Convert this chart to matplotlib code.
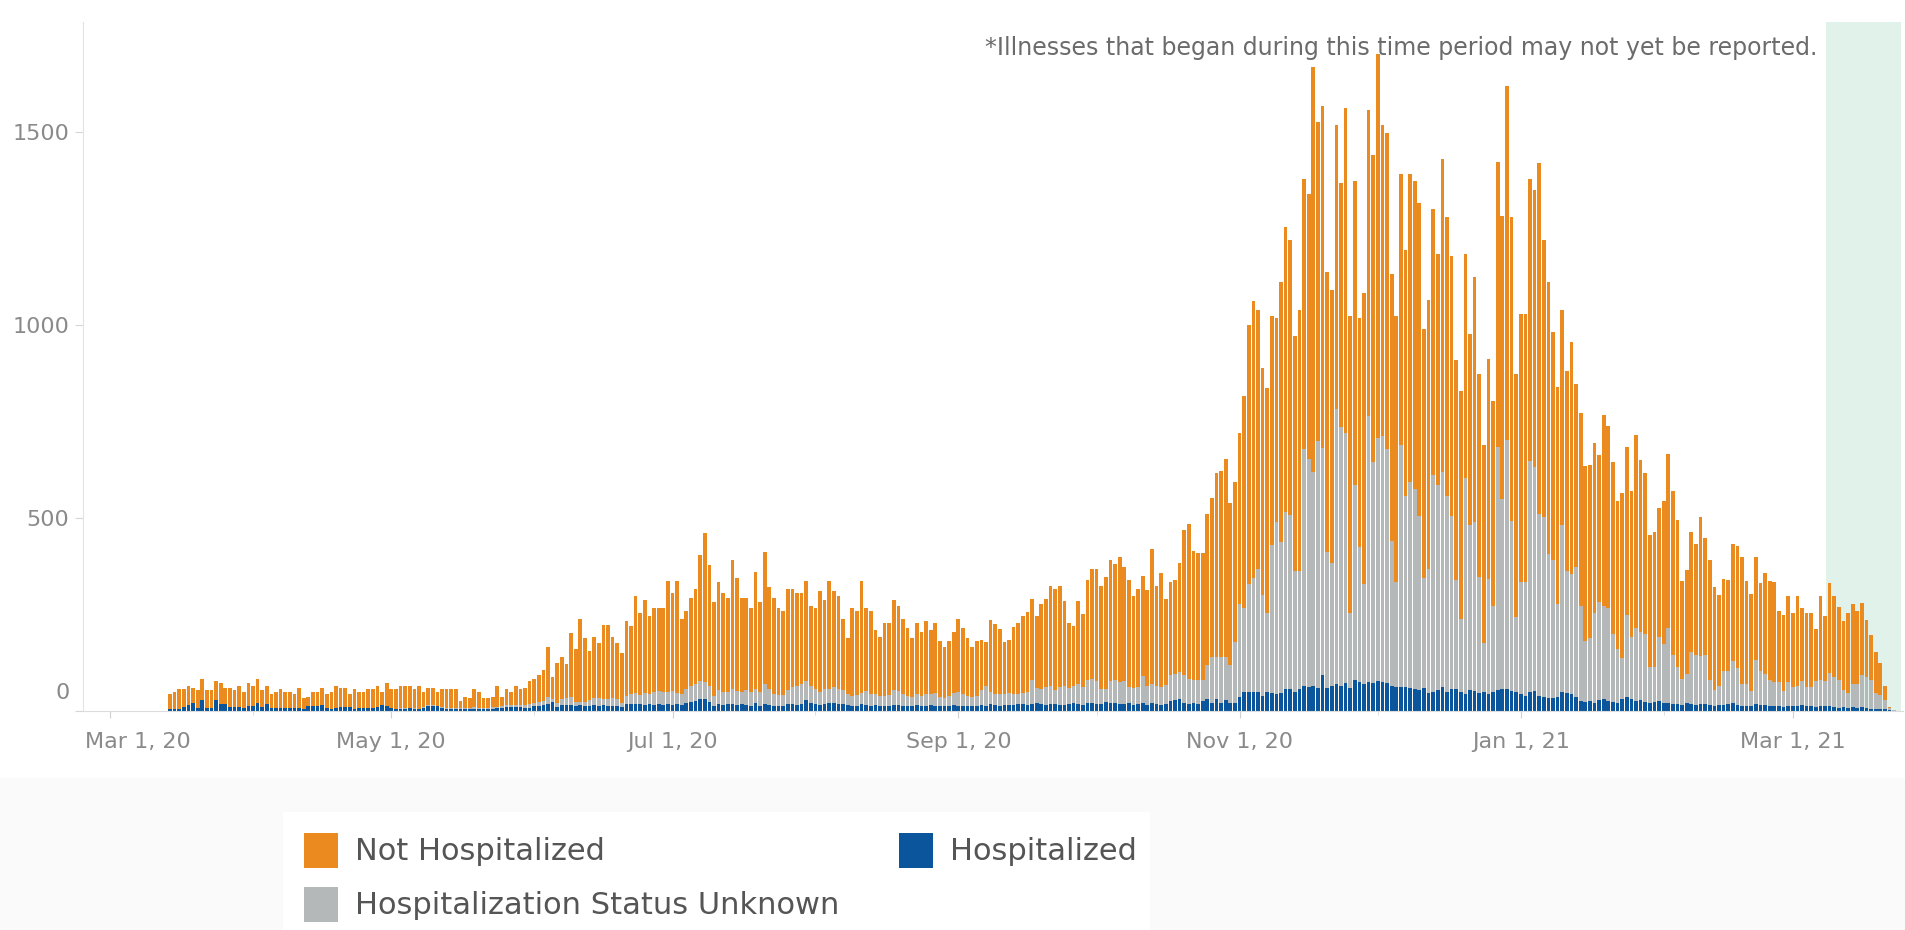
import numpy as np
import pandas as pd
import matplotlib
matplotlib.use('Agg')
import matplotlib.pyplot as plt
import matplotlib.dates as mdates
from matplotlib.patches import Rectangle

# daily illness onsets, Mar 14 2020 -> Mar 23 2021
first_day = '2020-03-14'

total_cases = [
    43, 50, 56, 56, 66, 60, 54, 82, 54, 54, 79, 72, 60, 60, 54, 66, 48, 72, 66, 82,
    54, 66, 43, 48, 56, 48, 48, 43, 60, 33, 37, 48, 48, 60, 43, 48, 66, 60, 60, 43,
    56, 48, 48, 56, 56, 66, 48, 72, 56, 56, 66, 66, 66, 56, 66, 48, 60, 60, 48, 56,
    56, 56, 56, 27, 37, 33, 56, 48, 33, 33, 37, 66, 37, 56, 48, 66, 56, 60, 79, 82,
    93, 106, 167, 89, 124, 139, 122, 201,
    160, 238, 188, 156, 193, 177, 224, 224, 193, 177, 149, 233, 221, 299, 255, 288, 245, 266, 266, 266,
    338, 305, 338, 238, 260, 294, 315, 405, 460, 378, 283, 333, 305, 294, 390, 345, 294, 294, 266, 360,
    283, 411, 322, 294, 266, 260, 315, 315, 305, 305, 338, 272, 266, 310, 288, 338, 310, 299, 238, 188,
    266, 260, 338, 266, 260, 210, 193, 227, 227, 288, 272, 238, 216, 188, 227, 204, 233, 210, 227, 181,
    167, 181, 204, 238, 216, 188, 167, 181,
    184, 180, 236, 226, 212, 179, 184, 217, 229, 245, 257, 290, 245, 278, 290, 325, 316, 325, 284, 229,
    221, 284, 252, 339, 367, 367, 325, 346, 391, 382, 400, 372, 339, 297, 316, 351, 314, 419, 323, 358,
    289, 334, 339, 384, 468, 485,
    415, 410, 410, 510, 551, 617, 622, 654, 538, 592, 721, 817, 1000, 1061, 1038, 889, 836, 1024, 1017, 1111,
    1255, 1219, 971, 1039, 1379, 1339, 1668, 1525, 1568, 1137, 1090, 1517, 1367, 1561, 1024, 1373, 1017, 1083, 1558, 1440,
    1702, 1517, 1497, 1131, 1024, 1390, 1195, 1390, 1373, 1317, 990, 1065, 1300, 1185, 1429, 1280, 1179, 910, 828, 1185,
    976, 1124, 873, 688, 911, 803, 1423, 1283, 1618, 1280, 873, 1028, 1028,
    1379, 1351, 1421, 1221, 1111, 982, 839, 1038, 882, 955, 848, 772, 634, 637, 694, 662, 767, 739, 645, 544,
    566, 683, 569, 714, 651, 617, 455, 465, 527, 544, 667, 569, 494, 337, 365, 465, 432, 503, 449, 390,
    320, 300, 343, 339, 432, 427, 399, 337, 303, 399, 331, 358, 337, 334, 259, 249, 298, 254, 298, 267,
    254, 254, 212, 298, 247, 331, 298, 270, 233, 254, 276, 259, 281, 236, 197, 154, 124, 64, 10, 2,
]

hospitalized = [
    5, 6, 6, 11, 15, 22, 9, 28, 7, 8, 28, 18, 18, 10, 10, 10, 8, 12, 12, 22,
    11, 18, 8, 7, 9, 9, 9, 9, 8, 6, 12, 14, 14, 15, 8, 6, 8, 11, 11, 10,
    6, 7, 7, 8, 7, 10, 15, 12, 7, 6, 6, 6, 7, 6, 5, 8, 13, 13, 12, 8,
    6, 5, 6, 5, 5, 6, 6, 6, 6, 5, 6, 7, 8, 10, 10, 10, 10, 8, 9, 12,
    13, 16, 17, 24, 10, 16, 15, 16,
    14, 16, 12, 14, 15, 14, 16, 12, 13, 14, 10, 18, 18, 18, 17, 16, 18, 16, 17, 16,
    18, 16, 18, 15, 20, 24, 26, 32, 30, 24, 14, 18, 16, 18, 17, 16, 18, 16, 14, 22,
    14, 18, 16, 12, 14, 12, 18, 17, 16, 18, 28, 22, 18, 16, 18, 20, 20, 18, 18, 16,
    14, 12, 18, 16, 14, 16, 14, 12, 12, 16, 16, 14, 12, 13, 15, 12, 14, 16, 14, 12,
    12, 14, 16, 14, 14, 12, 13, 12,
    16, 14, 18, 15, 14, 16, 15, 16, 17, 18, 16, 18, 20, 18, 16, 17, 18, 16, 15, 18,
    20, 18, 16, 22, 20, 18, 17, 24, 22, 20, 18, 18, 20, 16, 17, 22, 16, 20, 18, 16,
    18, 26, 28, 30, 20, 18,
    22, 18, 25, 30, 22, 30, 20, 28, 20, 20, 36, 48, 48, 48, 48, 40, 48, 46, 44, 46,
    58, 56, 50, 56, 64, 62, 64, 60, 92, 60, 64, 70, 66, 72, 60, 80, 74, 70, 76, 72,
    78, 76, 72, 66, 62, 62, 62, 60, 58, 54, 60, 46, 50, 54, 62, 50, 56, 58, 48, 44,
    54, 52, 46, 48, 44, 50, 54, 58, 56, 52, 48, 44, 40,
    50, 53, 40, 36, 34, 33, 35, 50, 46, 44, 36, 26, 24, 26, 22, 28, 30, 26, 24, 22,
    32, 36, 30, 26, 28, 24, 22, 24, 26, 22, 20, 18, 18, 16, 22, 18, 16, 18, 18, 16,
    14, 16, 16, 18, 20, 16, 14, 14, 12, 18, 16, 16, 14, 14, 12, 10, 12, 14, 12, 16,
    12, 12, 10, 12, 14, 12, 10, 8, 10, 8, 10, 8, 10, 8, 6, 6, 5, 4, 2, 1,
]

unknown = [
    0, 0, 0, 0, 0, 0, 0, 0, 0, 0, 0, 0, 0, 0, 0, 0, 0, 0, 0, 0,
    0, 0, 0, 0, 0, 0, 0, 0, 0, 0, 0, 0, 0, 0, 0, 0, 0, 0, 0, 0,
    0, 0, 0, 0, 0, 0, 0, 0, 0, 0, 1, 1, 2, 2, 1, 2, 2, 3, 2, 2,
    2, 3, 3, 2, 3, 3, 4, 3, 3, 4, 4, 4, 5, 5, 5, 6, 6, 7, 8, 8,
    10, 9, 18, 8, 12, 14, 18, 20,
    10, 8, 12, 14, 18, 20, 16, 18, 20, 16, 12, 22, 26, 28, 24, 30, 26, 32, 36, 34,
    30, 36, 28, 30, 38, 40, 44, 46, 46, 40, 26, 36, 34, 30, 40, 36, 32, 38, 36, 34,
    34, 52, 40, 32, 28, 30, 36, 44, 50, 52, 50, 44, 38, 34, 40, 36, 42, 38, 36, 28,
    24, 30, 28, 36, 30, 28, 24, 26, 30, 38, 36, 30, 26, 24, 30, 28, 30, 28, 32, 24,
    22, 24, 30, 34, 30, 26, 24, 26,
    39, 52, 32, 30, 31, 28, 31, 29, 28, 28, 32, 62, 40, 40, 46, 48, 37, 46, 51, 42,
    44, 52, 46, 58, 62, 60, 39, 32, 56, 60, 58, 60, 42, 44, 44, 68, 50, 50, 46, 46,
    50, 66, 67, 70, 72, 64,
    59, 63, 56, 90, 118, 110, 120, 112, 100, 159, 242, 218, 280, 297, 319, 260, 207, 383, 445, 391,
    458, 452, 312, 306, 615, 592, 556, 639, 590, 352, 320, 713, 669, 649, 195, 506, 350, 258, 687, 574,
    629, 636, 607, 374, 272, 626, 494, 534, 517, 450, 285, 321, 561, 532, 556, 508, 448, 281, 190, 560,
    428, 437, 301, 128, 299, 222, 630, 491, 645, 441, 196, 290, 294,
    598, 578, 470, 466, 373, 357, 243, 432, 316, 310, 337, 246, 158, 162, 233, 255, 242, 242, 175, 138,
    105, 213, 163, 190, 176, 175, 93, 91, 167, 152, 196, 127, 97, 68, 73, 136, 129, 125, 127, 65,
    41, 50, 87, 85, 109, 95, 56, 56, 41, 115, 87, 79, 67, 61, 63, 43, 63, 48, 54, 62,
    50, 50, 68, 69, 64, 86, 77, 73, 45, 39, 60, 62, 82, 81, 75, 41, 37, 24, 6, 1,
]

series_labels = ['Not Hospitalized', 'Hospitalized', 'Hospitalization Status Unknown']
series_colors = ['#EB8A1F', '#0A559B', '#B5B8B9']

tick_dates = ['2020-03-01', '2020-05-01', '2020-07-01', '2020-09-01',
              '2020-11-01', '2021-01-01', '2021-03-01']
tick_labels = ['Mar 1, 20', 'May 1, 20', 'Jul 1, 20', 'Sep 1, 20',
               'Nov 1, 20', 'Jan 1, 21', 'Mar 1, 21']
minor_dates = ['2020-04-01', '2020-06-01', '2020-08-01', '2020-10-01',
               '2020-12-01', '2021-02-01']
y_ticks = [0, 500, 1000, 1500]

note = '*Illnesses that began during this time period may not yet be reported.'
band_start, band_end = '2021-03-08 04:00', '2021-03-24 12:00'

W, H = 1905, 930
def fx(px):
    return px / W
def fy(py):
    return 1 - py / H

fig = plt.figure(figsize=(W / 100, H / 100), dpi=100)
fig.patch.set_facecolor('white')
# grey strip under the chart and the white legend card
fig.add_artist(Rectangle((0, 0), 1, fy(778), transform=fig.transFigure,
                         facecolor='#fafafa', edgecolor='none', zorder=0))
fig.add_artist(Rectangle((fx(283), 0), fx(1150) - fx(283), fy(812), transform=fig.transFigure,
                         facecolor='white', edgecolor='none', zorder=0))

ax = fig.add_axes([fx(83), fy(711), fx(1903) - fx(83), fy(22) - fy(711)])

dates = pd.date_range(first_day, periods=len(total_cases), freq='D')
x = mdates.date2num(dates)
hosp = np.array(hospitalized)
unk = np.array(unknown)
not_hosp = np.maximum(np.array(total_cases) - unk - hosp, 0)

ax.axvspan(mdates.datestr2num(band_start), mdates.datestr2num(band_end),
           color='#E1F2EA', lw=0, zorder=0)
ax.bar(x, hosp, width=0.8, color=series_colors[1], linewidth=0, zorder=2)
ax.bar(x, unk, bottom=hosp, width=0.8, color=series_colors[2], linewidth=0, zorder=2)
ax.bar(x, not_hosp, bottom=hosp + unk, width=0.8, color=series_colors[0], linewidth=0, zorder=2)

ax.set_xlim(mdates.datestr2num('2020-02-24 03:00'), mdates.datestr2num('2021-03-24 22:00'))
ax.set_ylim(0, 1785)

for s in ['top', 'right']:
    ax.spines[s].set_visible(False)
ax.spines['left'].set_color('#e3e3e3')
ax.spines['bottom'].set_color('#dcdcdc')
ax.spines['bottom'].set_linestyle((0, (1, 1)))

ax.set_yticks(y_ticks)
ax.set_yticklabels([''] + [str(v) for v in y_ticks[1:]])
ax.tick_params(axis='y', length=6, color='#d6d6d6', labelsize=16, labelcolor='#8a8a8a', pad=4)
# the zero label sits a little above its tick
ax.annotate(str(y_ticks[0]), xy=(0, 0), xycoords=('axes fraction', 'data'),
            xytext=(-13, 18), textcoords='offset pixels', ha='right', va='center',
            fontsize=16, color='#8a8a8a')

tnum = [mdates.datestr2num(d) for d in tick_dates]
ax.set_xticks(tnum)
ax.set_xticklabels([''] + tick_labels[1:])
ax.set_xticks([mdates.datestr2num(d) for d in minor_dates], minor=True)
ax.tick_params(axis='x', which='major', length=5, color='#d0d0d0', labelsize=16,
               labelcolor='#8a8a8a', pad=10)
ax.tick_params(axis='x', which='minor', length=3, color='#d8d8d8')
ax.annotate(tick_labels[0], xy=(tnum[0], 0), xycoords=('data', 'axes fraction'),
            xytext=(-25, -21), textcoords='offset pixels', ha='left', va='top',
            fontsize=16, color='#8a8a8a')

fig.text(fx(1817), fy(55), note, ha='right', va='baseline', fontsize=17, color='#6b6b6b')

# legend
legend_items = [(series_labels[0], series_colors[0], 304, 851),
                (series_labels[1], series_colors[1], 899, 851),
                (series_labels[2], series_colors[2], 304, 905)]
for lab, col, px, py in legend_items:
    fig.add_artist(Rectangle((fx(px), fy(py + 17)), fx(34), 35 / H, transform=fig.transFigure,
                             facecolor=col, edgecolor='none'))
    fig.text(fx(px + 51), fy(py), lab, ha='left', va='center', fontsize=22, color='#555555')

fig.savefig('out.png', dpi=100)
